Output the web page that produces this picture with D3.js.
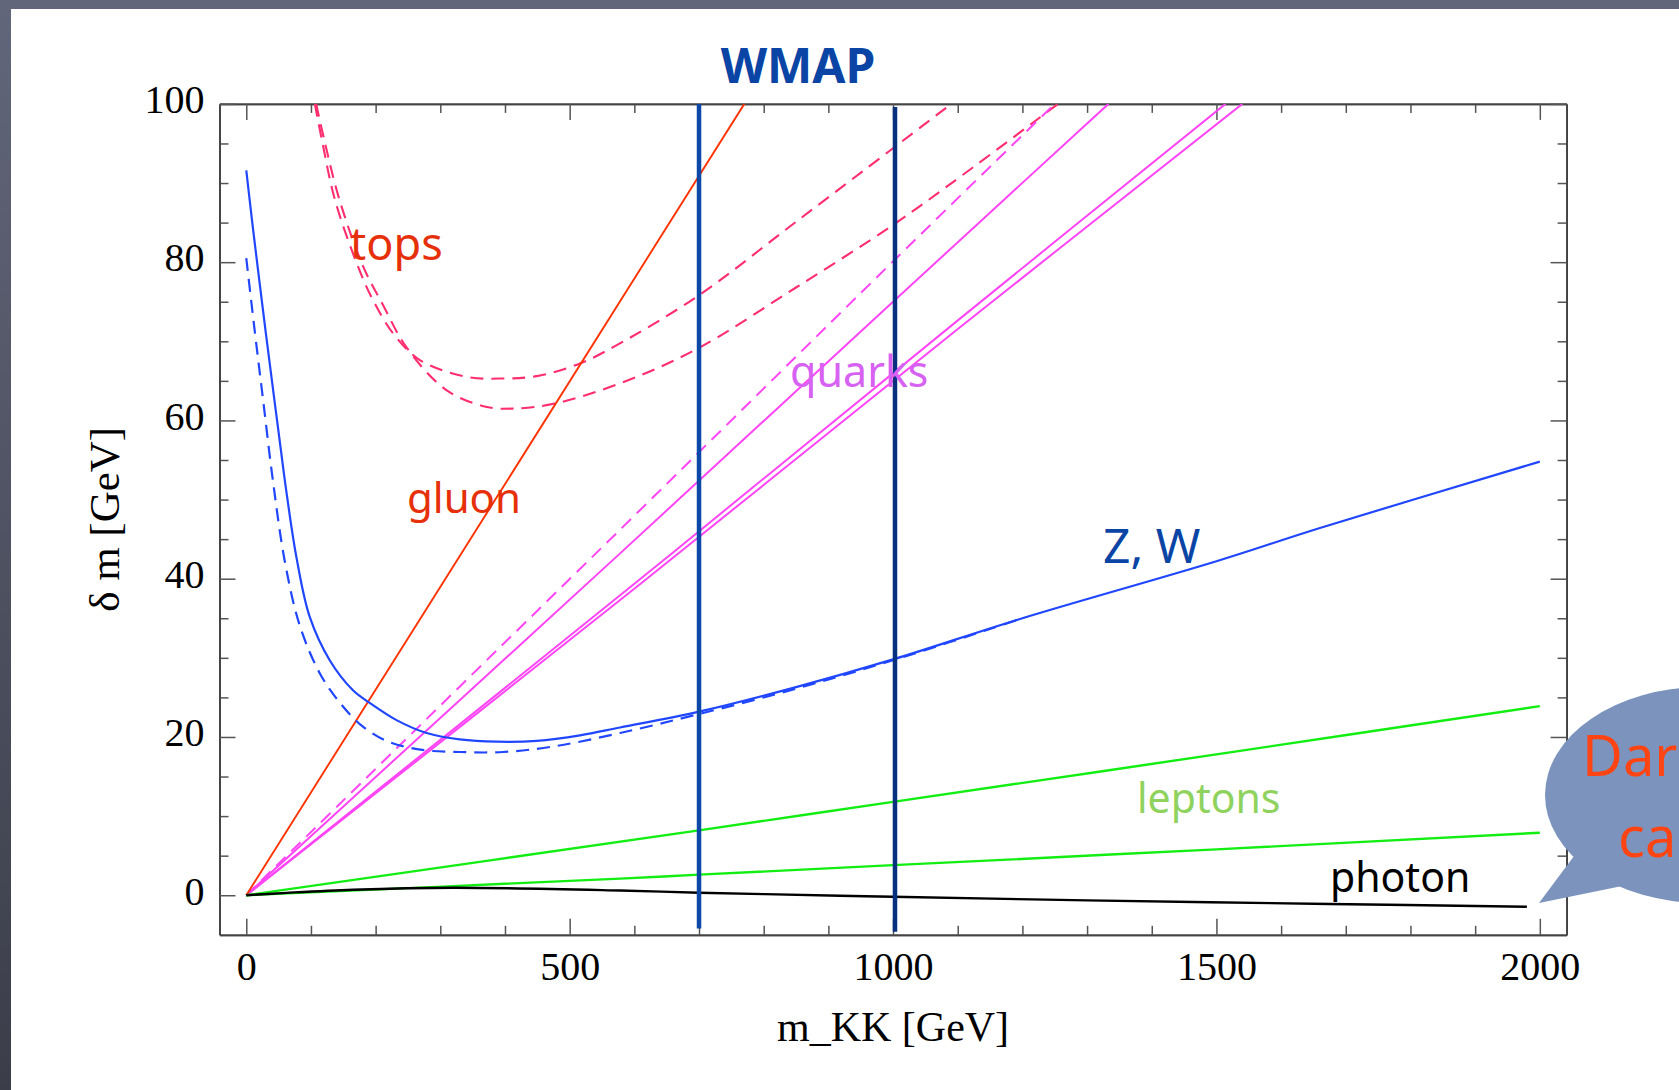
<!DOCTYPE html>
<html><head><meta charset="utf-8">
<script src="https://cdn.jsdelivr.net/npm/d3@7"></script>
<style>
html,body{margin:0;padding:0;overflow:hidden;background:#50535f;}
svg{display:block;}
</style></head><body>
<svg id="chart" width="1679" height="1090"></svg>
<script>
// ---------------- data ----------------
const xTicksMajor = [0, 500, 1000, 1500, 2000];
const xTicksMinor = [100,200,300,400,600,700,800,900,1100,1200,1300,1400,1600,1700,1800,1900];
const yTicksMajor = [0, 20, 40, 60, 80, 100];
const yTicksMinor = [5,10,15,25,30,35,45,50,55,65,70,75,85,90,95];
const xDomain = [-41.4, 2041.4];
const yDomain = [-5, 100];

// δm vs m_KK  (GeV)
const gluon      = [[0,0],[385,50],[770,100]];
const zwSolid    = [[0,91.6],[10,84.5],[20,77.8],[30,71.2],[40,64.8],[50,58.5],[62,51],[78,42.5],[98,35.2],[129,29.7],[165,25.9],[191,24.3],[233,22.1],[279,20.5],[330,19.7],[387,19.4],[449,19.5],[516,20.2],[578,21.2],[700,23.2],[850,26.3],[1000,29.8],[1200,35.0],[1500,42.2],[1660,46.4],[2000,54.8]];
const zwDashed   = [[0,80.5],[13.5,71.0],[26.3,62.4],[41,52.5],[60,42.0],[83,34.0],[114,28.0],[145,24.3],[176,21.6],[217,19.5],[269,18.4],[330,18.1],[397,18.1],[475,18.8],[578,20.5],[700,22.9],[850,26.1],[1000,29.7],[1200,35.0]];
const topsUpper  = [[106,100],[118,95.0],[137,87.9],[173,79.4],[196,75.2],[227,71.0],[269,67.6],[341,65.5],[397,65.3],[449,65.6],[516,67.2],[568,69.3],[696,75.6],[850,85.1],[1000,94.4],[1090,100]];
const topsLower  = [[108,100],[121,95.3],[144,87.9],[181,79.4],[212,74.5],[248,69.2],[310,63.8],[372,61.7],[413,61.5],[475,62.1],[578,64.7],[696,69.0],[850,76.8],[1000,84.7],[1104,90.8],[1255,100]];
const quarkDashed = [[0,0],[578,46.2],[1000,80.1],[1250,100]];
const quark1     = [[0,0],[578,43.2],[1000,75.0],[1333,100]];
const quark2     = [[0,0],[578,37.9],[1104,72.9],[1514,100]];
const quark3     = [[0,0],[578,37.3],[1104,71.8],[1540,100]];
const leptonUpper = [[0,0],[700,8.2],[1000,11.8],[1500,17.8],[2000,23.9]];
const leptonLower = [[0,0],[578,2.1],[700,2.6],[1000,3.8],[1500,5.8],[2000,7.9]];
const photon     = [[0,0],[62,0.3],[165,0.7],[320,0.95],[578,0.6],[700,0.32],[918,-0.06],[1000,-0.19],[1300,-0.65],[1675,-1.1],[1980,-1.45]];
const wmapX      = [700, 1003];
const wmapTop    = [100, 99.6];
const wmapBottom = [-4.2, -4.6];

// ---------------- layout ----------------
const W = 1679, H = 1090;
const plot = {left: 219.5, right: 1566.6, top: 103.9, bottom: 934.8};
const svg = d3.select("#chart");

const defs = svg.append("defs");
const bg = defs.append("linearGradient").attr("id","bg").attr("x1",0).attr("y1",0).attr("x2",0).attr("y2",1);
bg.append("stop").attr("offset","0%").attr("stop-color","#62667a");
bg.append("stop").attr("offset","100%").attr("stop-color","#3b3e49");
defs.append("clipPath").attr("id","plotclip").append("rect")
  .attr("x", plot.left).attr("y", plot.top)
  .attr("width", plot.right - plot.left).attr("height", plot.bottom - plot.top);

svg.append("rect").attr("width", W).attr("height", H).attr("fill", "url(#bg)");
svg.append("rect").attr("x", 11).attr("y", 9).attr("width", W - 11).attr("height", H - 9).attr("fill", "#ffffff");

const x = d3.scaleLinear().domain(xDomain).range([plot.left, plot.right]);
const y = d3.scaleLinear().domain(yDomain).range([plot.bottom, plot.top]);

// ---------------- axes / frame ----------------
const serif = "'Liberation Serif','Times New Roman',Times,serif";
function styleAxis(g){
  g.selectAll(".tick line").attr("stroke","#555").attr("stroke-width",1.5);
  g.select(".domain").attr("stroke","#444").attr("stroke-width",1.8);
  g.selectAll("text").attr("fill","#000").style("font-family",serif).style("font-size","40px");
}
// minor ticks
svg.append("g").attr("transform",`translate(0,${plot.bottom})`)
  .call(d3.axisBottom(x).tickValues(xTicksMinor).tickSize(-9).tickSizeOuter(0).tickFormat(""))
  .call(styleAxis);
svg.append("g").attr("transform",`translate(0,${plot.top})`)
  .call(d3.axisTop(x).tickValues(xTicksMinor).tickSize(-9).tickSizeOuter(0).tickFormat(""))
  .call(styleAxis);
svg.append("g").attr("transform",`translate(${plot.left},0)`)
  .call(d3.axisLeft(y).tickValues(yTicksMinor).tickSize(-9).tickSizeOuter(0).tickFormat(""))
  .call(styleAxis);
svg.append("g").attr("transform",`translate(${plot.right},0)`)
  .call(d3.axisRight(y).tickValues(yTicksMinor).tickSize(-9).tickSizeOuter(0).tickFormat(""))
  .call(styleAxis);
// major ticks
svg.append("g").attr("transform",`translate(0,${plot.bottom})`)
  .call(d3.axisBottom(x).tickValues(xTicksMajor).tickSize(-16).tickSizeOuter(0).tickPadding(17).tickFormat(d3.format("d")))
  .call(styleAxis);
svg.append("g").attr("transform",`translate(0,${plot.top})`)
  .call(d3.axisTop(x).tickValues(xTicksMajor).tickSize(-16).tickSizeOuter(0).tickFormat(""))
  .call(styleAxis);
const yl = svg.append("g").attr("transform",`translate(${plot.left},0)`)
  .call(d3.axisLeft(y).tickValues(yTicksMajor).tickSize(-16).tickSizeOuter(0).tickPadding(15).tickFormat(d3.format("d")))
  .call(styleAxis);
yl.selectAll("text").attr("dy","0.22em");
svg.append("g").attr("transform",`translate(${plot.right},0)`)
  .call(d3.axisRight(y).tickValues(yTicksMajor).tickSize(-16).tickSizeOuter(0).tickFormat(""))
  .call(styleAxis);

// axis titles
svg.append("text").attr("x", (x(0)+x(2000))/2).attr("y", 1041)
  .attr("text-anchor","middle").style("font-family",serif).style("font-size","42px").text("m_KK [GeV]");
svg.append("text").attr("transform",`translate(119,${(y(-5)+y(100))/2}) rotate(-90)`)
  .attr("text-anchor","middle").style("font-family",serif).style("font-size","43px").text("δ m [GeV]");

// ---------------- curves ----------------
const lineSmooth = d3.line().x(d=>x(d[0])).y(d=>y(d[1])).curve(d3.curveCatmullRom.alpha(0.5));
const lineStraight = d3.line().x(d=>x(d[0])).y(d=>y(d[1]));
const curves = svg.append("g").attr("clip-path","url(#plotclip)").attr("fill","none");

const series = [
  {d: topsUpper,  gen: lineSmooth,   color:"#ff2e6e", w:2.1, dash:"13,8"},
  {d: topsLower,  gen: lineSmooth,   color:"#ff2e6e", w:2.1, dash:"13,8"},
  {d: quarkDashed,gen: lineSmooth,   color:"#ff45f5", w:2.0, dash:"13,8"},
  {d: quark1,     gen: lineSmooth,   color:"#ff45f5", w:2.0},
  {d: quark2,     gen: lineSmooth,   color:"#ff45f5", w:2.0},
  {d: quark3,     gen: lineSmooth,   color:"#ff45f5", w:2.0},
  {d: gluon,      gen: lineStraight, color:"#ff3300", w:1.9},
  {d: zwDashed,   gen: lineSmooth,   color:"#2047ff", w:2.2, dash:"13,8"},
  {d: zwSolid,    gen: lineSmooth,   color:"#2047ff", w:2.2},
  {d: leptonUpper,gen: lineSmooth,   color:"#12ee12", w:2.4},
  {d: leptonLower,gen: lineSmooth,   color:"#12ee12", w:2.4},
  {d: photon,     gen: lineSmooth,   color:"#000000", w:2.4}
];
series.forEach(s=>{
  curves.append("path").attr("d", s.gen(s.d)).attr("stroke", s.color)
    .attr("stroke-width", s.w).attr("stroke-dasharray", s.dash || null);
});

// WMAP band edges
const wmapColors = ["#0b48a8", "#07307f"];
wmapX.forEach((v,i)=>{
  svg.append("line").attr("x1", x(v)).attr("x2", x(v))
    .attr("y1", y(wmapTop[i])).attr("y2", y(wmapBottom[i]))
    .attr("stroke", wmapColors[i]).attr("stroke-width", 4.5);
});

// ---------------- annotations ----------------
const hand = "'Comic Sans MS','Chalkboard','Noto Sans',sans-serif";
const labels = [
  {t:"WMAP",   px:798,  py:83,  size:48, color:"#0a45a5", weight:"bold", anchor:"middle"},
  {t:"tops",   px:350,  py:260, size:45, color:"#e6300a"},
  {t:"gluon",  px:407,  py:513, size:42, color:"#e6300a"},
  {t:"quarks", px:790,  py:387, size:43, color:"#d761f2"},
  {t:"Z, W",   px:1103, py:563, size:48, color:"#0a45a5"},
  {t:"leptons",px:1137, py:813, size:41, color:"#8fd25e"},
  {t:"photon", px:1330, py:892, size:41, color:"#000000"}
];
labels.forEach(l=>{
  svg.append("text").attr("x", l.px).attr("y", l.py)
    .attr("text-anchor", l.anchor || "start")
    .style("font-family", hand).style("font-size", l.size+"px")
    .style("font-weight", l.weight || "normal").attr("fill", l.color).text(l.t);
});

// speech bubble (partly off-slide, as in the original slide)
const bubble = svg.append("g");
bubble.append("ellipse").attr("cx",1703).attr("cy",795).attr("rx",158).attr("ry",108).attr("fill","#7c94bd");
bubble.append("path").attr("d","M1577,852 L1539,903 L1632,884 Z").attr("fill","#7c94bd");
bubble.append("text").attr("x",1582).attr("y",776).style("font-family",hand).style("font-size","56px").attr("fill","#ff4414").text("Dark");
bubble.append("text").attr("x",1618).attr("y",857).style("font-family",hand).style("font-size","56px").attr("fill","#ff4414").text("candidate");
</script>
</body></html>
